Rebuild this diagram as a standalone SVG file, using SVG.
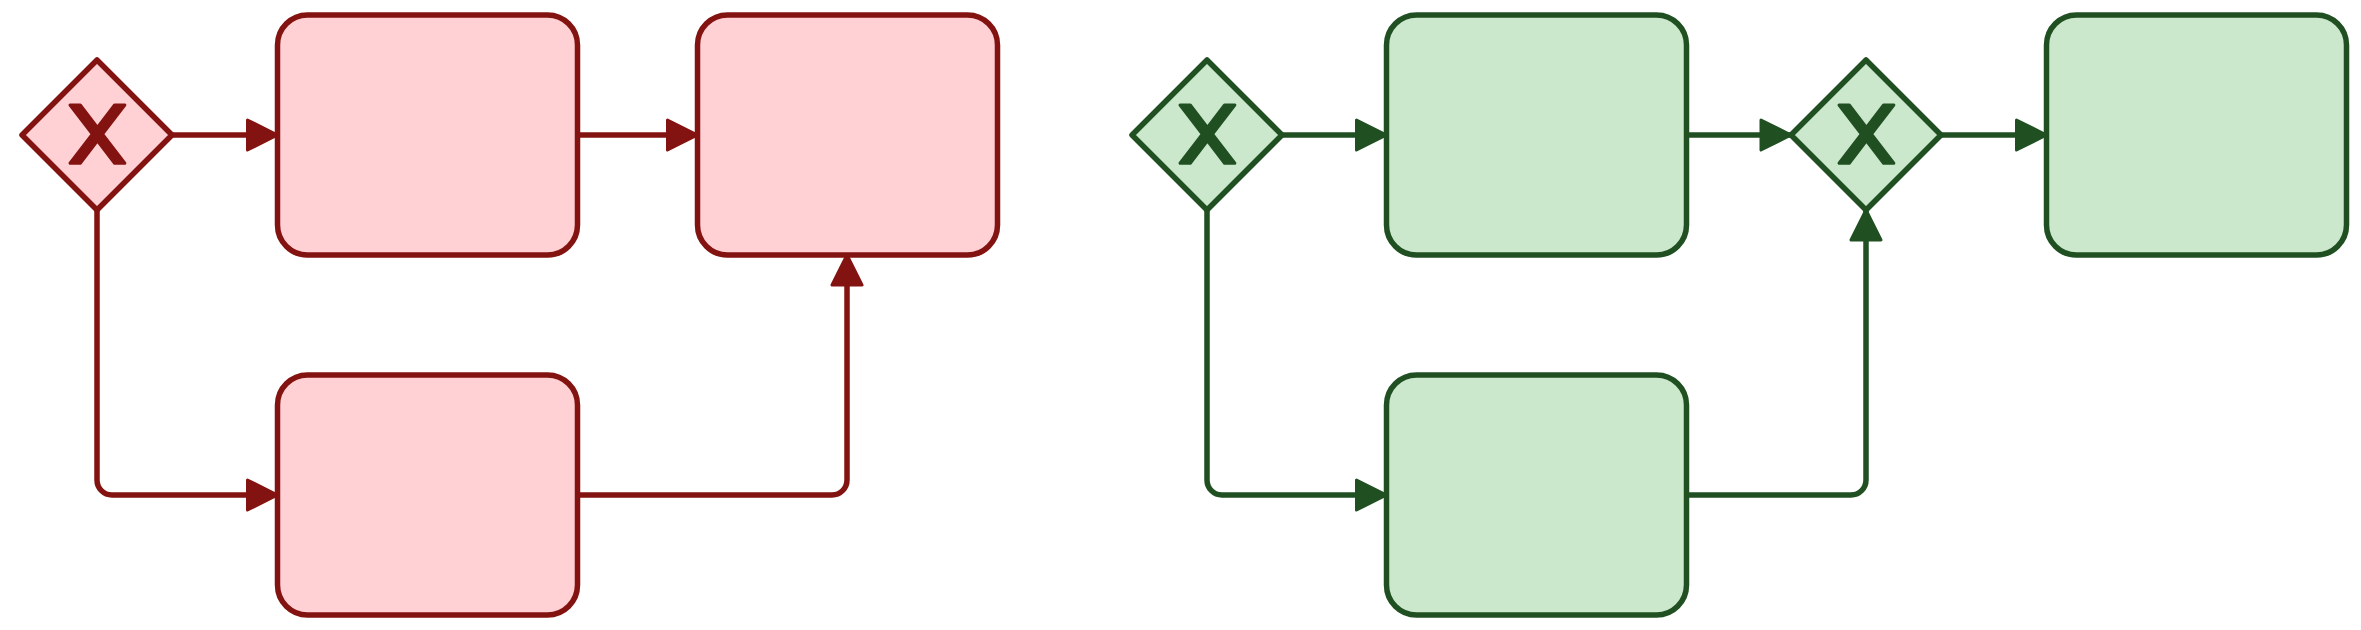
<svg xmlns="http://www.w3.org/2000/svg" width="2361" height="630" viewBox="0 0 2361 630">
<style>
.red .task, .red .gw { fill: #ffd0d4; stroke: #831311; }
.green .task, .green .gw { fill: #cbe8cc; stroke: #205022; }
.task, .gw { stroke-width: 5.5; stroke-linejoin: round; }
.red .mark { fill: #831311; stroke: #831311; }
.green .mark { fill: #205022; stroke: #205022; }
.mark { stroke-width: 1; stroke-linejoin: round; }
.flow { fill: none; stroke-width: 5.5; stroke-linejoin: round; stroke-linecap: butt; }
.flow.r { stroke: #831311; marker-end: url(#arrR); }
.flow.g { stroke: #205022; marker-end: url(#arrG); }
</style>
<defs>
<marker id="arrR" viewBox="0 0 20 20" refX="11" refY="10" markerWidth="60" markerHeight="60" markerUnits="userSpaceOnUse" orient="auto">
<path d="M 1 5 L 11 10 L 1 15 Z" fill="#831311" stroke="#831311" stroke-width="1" stroke-linejoin="round"/>
</marker>
<marker id="arrG" viewBox="0 0 20 20" refX="11" refY="10" markerWidth="60" markerHeight="60" markerUnits="userSpaceOnUse" orient="auto">
<path d="M 1 5 L 11 10 L 1 15 Z" fill="#205022" stroke="#205022" stroke-width="1" stroke-linejoin="round"/>
</marker>
<path id="xmark" d="m 16,15 7.42857142857143,9.714285714285714 -7.42857142857143,9.714285714285714 3.428571428571429,0 5.714285714285715,-7.464228571428572 5.714285714285715,7.464228571428572 3.428571428571429,0 -7.42857142857143,-9.714285714285714 7.42857142857143,-9.714285714285714 -3.428571428571429,0 -5.714285714285715,7.464228571428572 -5.714285714285715,-7.464228571428572 -3.428571428571429,0 z"/>
</defs>

<g id="connectors">
<path class="flow r" d="M 172 135 L 277.5 135"/>
<path class="flow r" d="M 577.5 135 L 697.5 135"/>
<path class="flow r" d="M 97 210 L 97 480 A 15 15 0 0 0 112 495 L 277.5 495"/>
<path class="flow r" d="M 577.5 495 L 832 495 A 15 15 0 0 0 847 480 L 847 255"/>
<path class="flow g" d="M 1282 135 L 1386.5 135"/>
<path class="flow g" d="M 1686.5 135 L 1791 135"/>
<path class="flow g" d="M 1941 135 L 2046.5 135"/>
<path class="flow g" d="M 1207 210 L 1207 480 A 15 15 0 0 0 1222 495 L 1386.5 495"/>
<path class="flow g" d="M 1686.5 495 L 1851 495 A 15 15 0 0 0 1866 480 L 1866 210"/>
</g>

<g class="red">
<g id="gatewayRed">
<polygon class="gw" points="97,60 172,135 97,210 22,135"/>
<g transform="translate(22,60) scale(3)"><use href="#xmark" class="mark"/></g>
</g>
<g id="taskRed1"><rect class="task" x="277.5" y="15" width="300" height="240" rx="30" ry="30"/></g>
<g id="taskRed2"><rect class="task" x="697.5" y="15" width="300" height="240" rx="30" ry="30"/></g>
<g id="taskRed3"><rect class="task" x="277.5" y="375" width="300" height="240" rx="30" ry="30"/></g>
</g>

<g class="green">
<g id="gatewayGreen1">
<polygon class="gw" points="1207,60 1282,135 1207,210 1132,135"/>
<g transform="translate(1132,60) scale(3)"><use href="#xmark" class="mark"/></g>
</g>
<g id="taskGreen1"><rect class="task" x="1386.5" y="15" width="300" height="240" rx="30" ry="30"/></g>
<g id="gatewayGreen2">
<polygon class="gw" points="1866,60 1941,135 1866,210 1791,135"/>
<g transform="translate(1791,60) scale(3)"><use href="#xmark" class="mark"/></g>
</g>
<g id="taskGreen2"><rect class="task" x="2046.5" y="15" width="300" height="240" rx="30" ry="30"/></g>
<g id="taskGreen3"><rect class="task" x="1386.5" y="375" width="300" height="240" rx="30" ry="30"/></g>
</g>
</svg>
